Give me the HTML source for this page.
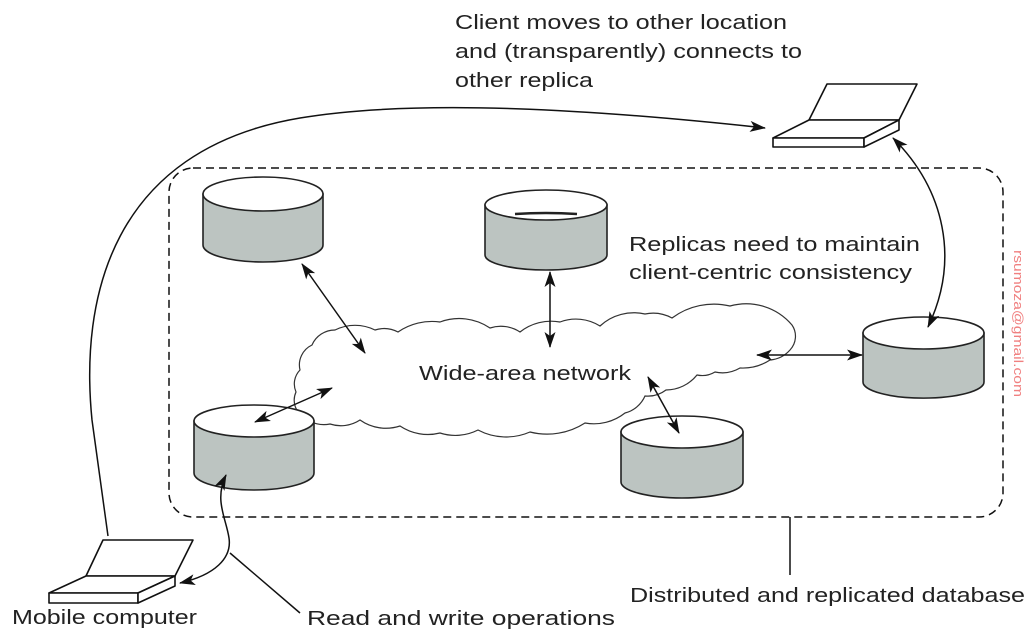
<!DOCTYPE html>
<html><head><meta charset="utf-8"><style>
html,body{margin:0;padding:0;background:#fff;}
svg{display:block;}
text{font-family:"Liberation Sans",Arial,sans-serif;fill:#222;}
</style></head><body>
<svg width="1033" height="635" viewBox="0 0 1033 635" xmlns="http://www.w3.org/2000/svg">
<defs>
<marker id="a" viewBox="0 0 16 11" refX="15" refY="5.5" markerWidth="16" markerHeight="11" markerUnits="userSpaceOnUse" orient="auto-start-reverse">
<path d="M0,0 L16,5.5 L0,11 L4,5.5 z" fill="#111"/>
</marker>
</defs>
<g fill="none" stroke="#111" stroke-width="1.6">
<rect x="169" y="168" width="834" height="349" rx="24" ry="24" stroke-dasharray="8,5" stroke-width="1.5"/>
</g>
<!-- cloud -->
<path fill="#fff" stroke="#333" stroke-width="1.2" d="M305,418 A20,20 0 0 1 296,392 A20,20 0 0 1 300,370 A22,22 0 0 1 312,345 A25,25 0 0 1 335,330 A45,45 0 0 1 375,330 A30,30 0 0 1 398,332 A60,60 0 0 1 440,322 A55,55 0 0 1 490,328 A35,35 0 0 1 520,332 A50,50 0 0 1 560,322 A45,45 0 0 1 600,326 A50,50 0 0 1 645,314 A40,40 0 0 1 672,318 A70,70 0 0 1 730,306 A60,60 0 0 1 792,325 A20,20 0 0 1 790,350 A30,30 0 0 1 770,360 A50,50 0 0 1 740,368 A35,35 0 0 1 715,372 A25,25 0 0 1 697,375 A40,40 0 0 1 666,390 A30,30 0 0 1 645,396 A30,30 0 0 1 625,413 A50,50 0 0 1 585,423 A70,70 0 0 1 530,432 A60,60 0 0 1 478,430 A50,50 0 0 1 440,433 A50,50 0 0 1 400,426 A45,45 0 0 1 360,420 A35,35 0 0 1 330,424 A30,30 0 0 1 305,418 Z"/>
<!-- cylinders -->
<g stroke="#222" stroke-width="1.6">
<path fill="#bcc4c1" d="M203,194 L203,245 A60,17 0 0 0 323,245 L323,194 Z"/><ellipse cx="263" cy="194" rx="60" ry="17" fill="#fff"/>
<path fill="#bcc4c1" d="M485,205 L485,255 A61,15 0 0 0 607,255 L607,205 Z"/><ellipse cx="546" cy="205" rx="61" ry="15" fill="#fff"/>
<path d="M515,214 Q546,212 577,214" stroke-width="2.5" fill="none"/>
<path fill="#bcc4c1" d="M863,333 L863,382 A60,16 0 0 0 984,382 L984,333 Z"/><ellipse cx="923.5" cy="333" rx="60.5" ry="16" fill="#fff"/>
<path fill="#bcc4c1" d="M194,421 L194,473 A60,17 0 0 0 314,473 L314,421 Z"/><ellipse cx="254" cy="421" rx="60" ry="16" fill="#fff"/>
<path fill="#bcc4c1" d="M621,432 L621,482 A61,16 0 0 0 743,482 L743,432 Z"/><ellipse cx="682" cy="432" rx="61" ry="16" fill="#fff"/>
</g>
<!-- laptops -->
<g stroke="#111" stroke-width="1.6" fill="#fff" stroke-linejoin="round">
<path d="M103,540 L193,540 L175,576 L86,576 Z"/>
<path d="M86,576 L175,576 L138,593 L49,593 Z"/>
<path d="M49,593 L138,593 L138,603 L49,603 Z"/>
<path d="M175,576 L175,586 L138,603 L138,593 Z"/>
<path d="M827,84 L917,84 L899,120 L809,120 Z"/>
<path d="M809,120 L899,120 L864,138 L773,138 Z"/>
<path d="M773,138 L864,138 L864,147 L773,147 Z"/>
<path d="M899,120 L899,130 L864,147 L864,138 Z"/>
</g>
<!-- connectors -->
<g fill="none" stroke="#111" stroke-width="1.5">
<path d="M108,536 L92,420 C80,300 110,150 300,118 C420,98 600,110 765,128" marker-end="url(#a)"/>
<path d="M893,138 C945,190 960,260 928,327" marker-start="url(#a)" marker-end="url(#a)"/>
<path d="M302,264 L365,353" marker-start="url(#a)" marker-end="url(#a)"/>
<path d="M550,272 L550,347" marker-start="url(#a)" marker-end="url(#a)"/>
<path d="M255,422 L332,388" marker-start="url(#a)" marker-end="url(#a)"/>
<path d="M648,377 L679,433" marker-start="url(#a)" marker-end="url(#a)"/>
<path d="M757,355 L862,355" marker-start="url(#a)" marker-end="url(#a)"/>
<path d="M180,583 C215,575 232,558 229,538 C226,518 214,500 226,475" marker-start="url(#a)" marker-end="url(#a)"/>
<path d="M230,553 L300,613"/>
<path d="M790,517 L790,575"/>
</g>
<!-- text -->
<g font-size="20">
<text x="455" y="29" textLength="332" lengthAdjust="spacingAndGlyphs">Client moves to other location</text>
<text x="455" y="58" textLength="347" lengthAdjust="spacingAndGlyphs">and (transparently) connects to</text>
<text x="455" y="87" textLength="138" lengthAdjust="spacingAndGlyphs">other replica</text>
<text x="629" y="251" textLength="291" lengthAdjust="spacingAndGlyphs">Replicas need to maintain</text>
<text x="629" y="279" textLength="283" lengthAdjust="spacingAndGlyphs">client-centric consistency</text>
<text x="419" y="380" textLength="212" lengthAdjust="spacingAndGlyphs">Wide-area network</text>
<text x="12" y="624" textLength="185" lengthAdjust="spacingAndGlyphs">Mobile computer</text>
<text x="307" y="625" textLength="308" lengthAdjust="spacingAndGlyphs">Read and write operations</text>
<text x="630" y="602" textLength="395" lengthAdjust="spacingAndGlyphs">Distributed and replicated database</text>
</g>
<text x="0" y="0" font-size="13" style="fill:#f08080" transform="translate(1014,250) rotate(90)" textLength="147" lengthAdjust="spacingAndGlyphs">rsumoza@gmail.com</text>
</svg>
</body></html>
